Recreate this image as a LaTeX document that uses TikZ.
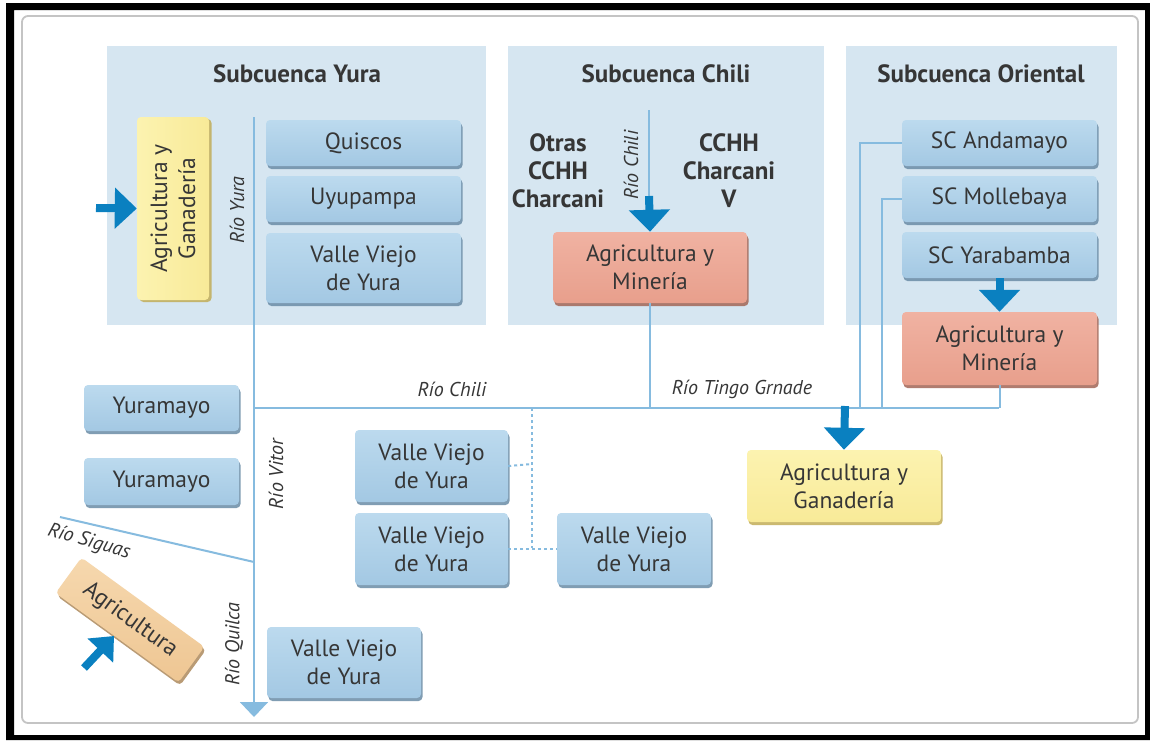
\documentclass[tikz,border=0pt]{standalone}
\usepackage{fontspec}
\setmainfont{PT Sans}
\usetikzlibrary{arrows.meta,shadows}
\definecolor{panelbg}{HTML}{D6E6F1}
\definecolor{river}{HTML}{86BBDF}
\definecolor{bigblue}{HTML}{0A80C0}
\definecolor{txt}{HTML}{363636}
\definecolor{bluetop}{HTML}{BCDAEE}
\definecolor{bluebot}{HTML}{A3C8E3}
\definecolor{blueshadow}{HTML}{6A8CA6}
\definecolor{yeltop}{HTML}{FCF3B0}
\definecolor{yelbot}{HTML}{F8EA98}
\definecolor{yelshadow}{HTML}{C2AD58}
\definecolor{saltop}{HTML}{F0B2A2}
\definecolor{salbot}{HTML}{E89F8C}
\definecolor{salshadow}{HTML}{A36656}
\definecolor{tantop}{HTML}{F6D8AE}
\definecolor{tanbot}{HTML}{EEC693}
\definecolor{tanshadow}{HTML}{AD8A5E}
\definecolor{framegray}{HTML}{C4C4C4}
\newcommand{\boxfont}{\fontsize{23.5}{28}\selectfont}
\newcommand{\titlefont}{\fontsize{25}{28}\selectfont\bfseries}
\newcommand{\rivfont}{\fontsize{20}{22}\selectfont\itshape}
\tikzset{
  panel/.style={fill=panelbg, draw=none},
  basebox/.style={rounded corners=4pt, align=center, font=\boxfont, text=txt, inner sep=0pt},
  bluebox/.style={basebox, top color=bluetop, bottom color=bluebot,
    drop shadow={shadow xshift=1.5pt, shadow yshift=-3pt, fill=blueshadow, opacity=0.85}},
  yelbox/.style={basebox, left color=yeltop, right color=yelbot,
    drop shadow={shadow xshift=2.5pt, shadow yshift=-2pt, fill=yelshadow, opacity=0.85}},
  salbox/.style={basebox, top color=saltop, bottom color=salbot,
    drop shadow={shadow xshift=1.5pt, shadow yshift=-3pt, fill=salshadow, opacity=0.85}},
  yelboxh/.style={basebox, top color=yeltop, bottom color=yelbot,
    drop shadow={shadow xshift=1.5pt, shadow yshift=-3pt, fill=yelshadow, opacity=0.85}},
  tanbox/.style={basebox, top color=tantop, bottom color=tanbot,
    drop shadow={shadow xshift=1.5pt, shadow yshift=-3pt, fill=tanshadow, opacity=0.85}},
  rivline/.style={draw=river, line width=2pt},
  rivdash/.style={draw=river, line width=2pt, dash pattern=on 3pt off 3pt},
  bigarrow/.style={draw=bigblue, line width=8pt, -{Triangle[width=40pt,length=22pt]}},
  rivlabel/.style={font=\rivfont, text=txt, inner sep=0pt},
  titlelabel/.style={font=\titlefont, text=txt, inner sep=0pt},
  boldlabel/.style={font=\titlefont, text=txt, inner sep=0pt, align=center}
}
\begin{document}
\begin{tikzpicture}[x=1pt,y=-1pt]
\useasboundingbox (0,0) rectangle (1150,740);
\fill[white] (0,0) rectangle (1150,740);
% outer black frame
\fill[black, even odd rule] (6,3) rectangle (1150,740) (14,10) rectangle (1145,735);
% inner rounded frame
\draw[framegray, line width=1.8pt, rounded corners=6pt] (22,16) rectangle (1138,723);
% panels
\fill[panel] (107,46) rectangle (486,325);
\fill[panel] (508,46) rectangle (824,325);
\fill[panel] (846,46) rectangle (1117,325);
\node[titlelabel] (tyura) at (297,74) {Subcuenca Yura};
\node[titlelabel] (tchili) at (666,74) {Subcuenca Chili};
\node[titlelabel] (torient) at (981,74) {Subcuenca Oriental};

% rivers (drawn before boxes)
\coordinate (yuraTop) at (254,117);
\coordinate (yuraEnd) at (254,717);
\coordinate (chiliJ) at (254,408);
\coordinate (tingoEnd) at (999,408);
\coordinate (chiliTop) at (649,110);
\coordinate (chiliArr) at (649,196);
\coordinate (dashTop) at (532,408);
\coordinate (dashBot) at (532,548);
\coordinate (dashMid) at (532,464);
\coordinate (sigStart) at (60,517);
\coordinate (sigEnd) at (254,562);
\coordinate (andaJ) at (860,408);
\coordinate (molleJ) at (882,408);
\coordinate (ganArr) at (845,406);
\coordinate (yuraArrS) at (96,208);
\coordinate (agrArrS) at (84,668);
\coordinate (agrArrE) at (114,636);

\draw[rivline, -{Triangle[width=28pt,length=15pt]}] (yuraTop) -- (yuraEnd);
\draw[rivline] (chiliJ) -- (tingoEnd);
\draw[rivline] (chiliTop) -- (chiliArr);
\draw[rivline] (sigStart) -- (sigEnd);
\draw[rivdash] (dashTop) -- (dashBot);

% Yura panel boxes
\node[yelbox, rotate=90, minimum width=183pt, minimum height=72pt] (agganY) at (173,208.5) {Agricultura y\\Ganadería};
\node[bluebox, minimum width=195pt, minimum height=46pt] (quiscos) at (363.5,143) {Quiscos};
\node[bluebox, minimum width=195pt, minimum height=46pt] (uyu) at (363.5,199) {Uyupampa};
\node[bluebox, minimum width=195pt, minimum height=70pt] (vvyT) at (363.5,268) {Valle Viejo\\de Yura};
\node[rivlabel, rotate=90] (lyura) at (237,210) {Río Yura};

% Chili panel
\node[boldlabel] (otras) at (558,171) {Otras\\CCHH\\Charcani};
\node[boldlabel] (cchv) at (729,171) {CCHH\\Charcani\\V};
\node[salbox, minimum width=194pt, minimum height=71pt] (agmin1) at (650,267.5) {Agricultura y\\Minería};
\node[rivlabel, rotate=90] (lchili) at (631,165) {Río Chili};

% Oriental panel
\node[bluebox, minimum width=195pt, minimum height=46pt] (anda) at (999.5,143) {SC Andamayo};
\node[bluebox, minimum width=195pt, minimum height=46pt] (molle) at (999.5,199) {SC Mollebaya};
\node[bluebox, minimum width=195pt, minimum height=46pt] (yara) at (999.5,255) {SC Yarabamba};
\node[salbox, minimum width=195pt, minimum height=73pt] (agmin2) at (999.5,348.5) {Agricultura y\\Minería};

% lower boxes
\node[yelboxh, minimum width=194pt, minimum height=72pt] (agganO) at (844,486) {Agricultura y\\Ganadería};
\node[bluebox, minimum width=153pt, minimum height=72pt] (vvy1) at (431.5,466) {Valle Viejo\\de Yura};
\node[bluebox, minimum width=153pt, minimum height=72pt] (vvy2) at (431.5,549) {Valle Viejo\\de Yura};
\node[bluebox, minimum width=154pt, minimum height=72pt] (vvy3) at (634,549) {Valle Viejo\\de Yura};
\node[bluebox, minimum width=154pt, minimum height=71pt] (vvy4) at (344,662.5) {Valle Viejo\\de Yura};
\node[bluebox, minimum width=155pt, minimum height=46pt] (yuram1) at (161.5,408) {Yuramayo};
\node[bluebox, minimum width=155pt, minimum height=47pt] (yuram2) at (161.5,481.5) {Yuramayo};
\node[tanbox, rotate=-36, minimum width=152pt, minimum height=44pt] (agri) at (130,620) {Agricultura};

% river labels
\node[rivlabel] (lchili2) at (452,389) {Río Chili};
\node[rivlabel] (ltingo) at (742,389) {Río Tingo Grnade};
\node[rivlabel, rotate=90] (lvitor) at (276,474) {Río Vitor};
\node[rivlabel, rotate=-16] (lsiguas) at (89,542) {Río Siguas};
\node[rivlabel, rotate=90] (lquilca) at (234,644) {Río Quilca};

% connectors
\draw[rivline] (agmin1.south) -- (agmin1.south |- chiliJ);
\draw[rivline] (anda.west) -| (andaJ);
\draw[rivline] (molle.west) -| (molleJ);
\draw[rivline] (agmin2.south) -- (agmin2.south |- tingoEnd);
\draw[rivdash] (vvy1.east) -- (dashMid);
\draw[rivdash] (vvy2.east) -- (vvy3.west);

% big arrows
\draw[bigarrow] (chiliArr) -- (agmin1.north);
\draw[bigarrow] (yara.south) -- (agmin2.north);
\draw[bigarrow] (ganArr) -- (agganO.north);
\draw[bigarrow] (yuraArrS) -- (agganY.north);
\draw[draw=bigblue, line width=8pt, -{Triangle[width=34pt,length=20pt]}] (agrArrS) -- (agrArrE);
\end{tikzpicture}
\end{document}
